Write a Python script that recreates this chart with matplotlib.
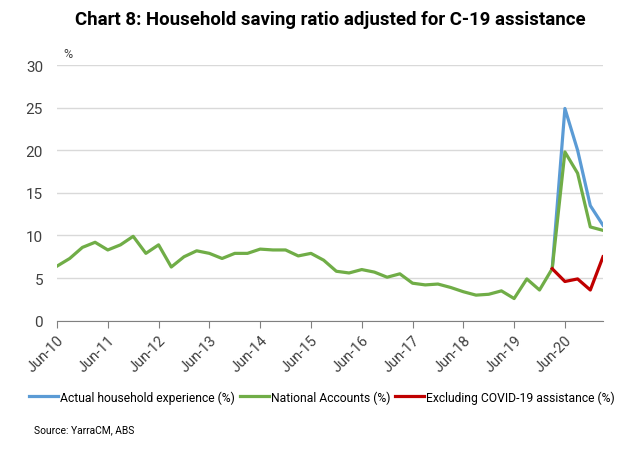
import matplotlib
matplotlib.use("Agg")
import matplotlib.pyplot as plt
import pandas as pd

plt.rcParams["font.family"] = ["Roboto", "DejaVu Sans"]

# quarterly, Jun-10 to Mar-21
quarters = pd.period_range("2010Q2", "2021Q1", freq="Q")

national_accounts = [6.4, 7.3, 8.6, 9.2, 8.3, 8.9, 9.9, 7.9, 8.9, 6.3,
                     7.5, 8.2, 7.9, 7.3, 7.9, 7.9, 8.4, 8.3, 8.3, 7.6,
                     7.9, 7.1, 5.8, 5.6, 6.0, 5.7, 5.1, 5.5, 4.4, 4.2,
                     4.3, 3.9, 3.4, 3.0, 3.1, 3.5, 2.6, 4.9, 3.6, 6.1,
                     19.8, 17.3, 11.0, 10.6]
# actual household experience and ex-COVID assistance start at Dec-19
actual_household = [6.1, 24.9, 20.0, 13.5, 11.2]
excl_covid = [6.1, 4.6, 4.9, 3.6, 7.5]

tick_labels = ["Jun-10", "Jun-11", "Jun-12", "Jun-13", "Jun-14", "Jun-15",
               "Jun-16", "Jun-17", "Jun-18", "Jun-19", "Jun-20"]

x_all = list(range(len(quarters)))
x_tail = x_all[-len(actual_household):]

fig = plt.figure(figsize=(6.33, 4.56), dpi=100)
ax = fig.add_axes([57 / 633, 1 - 321.7 / 456, (603 - 57) / 633, (321.7 - 66) / 456])

blue = "#5b9bd5"
green = "#70ad47"
red = "#c00000"

ax.plot(x_tail, actual_household, color=blue, lw=2.3, label="Actual household experience (%)")
ax.plot(x_all, national_accounts, color=green, lw=2.3, label="National Accounts (%)")
ax.plot(x_tail, excl_covid, color=red, lw=2.3, label="Excluding COVID-19 assistance (%)")

ax.set_xlim(0, len(quarters) - 1)
ax.set_ylim(0, 30)
ax.set_yticks(range(0, 31, 5))
ax.set_xticks(range(0, len(quarters), 4))
ax.set_xticklabels(tick_labels, rotation=45, ha="right", rotation_mode="anchor")
ax.tick_params(axis="y", length=0, labelsize=11, pad=10, colors="#404040")
ax.tick_params(axis="x", length=5, color="#808080", labelsize=10.5, labelcolor="#404040")

ax.grid(axis="y", color="#d9d9d9", lw=1)
ax.set_axisbelow(True)
for side in ["left", "right", "top"]:
    ax.spines[side].set_visible(False)
ax.spines["bottom"].set_color("#808080")

fig.text(63 / 633, 1 - 55 / 456, "%", fontsize=9, color="#404040", ha="left", va="center")
fig.text(330 / 633, 1 - 20 / 456, "Chart 8: Household saving ratio adjusted for C-19 assistance",
         fontsize=13.4, fontweight="bold", ha="center", va="center")

fig.legend(loc="center", bbox_to_anchor=(322 / 633, 1 - 398 / 456), ncol=3, frameon=False,
           fontsize=8.7, handlelength=2.4, handletextpad=0.15, columnspacing=0.4)
fig.text(34 / 633, 1 - 430 / 456, "Source: YarraCM, ABS", fontsize=7.4, ha="left", va="center")

fig.savefig("out.png", dpi=100)
